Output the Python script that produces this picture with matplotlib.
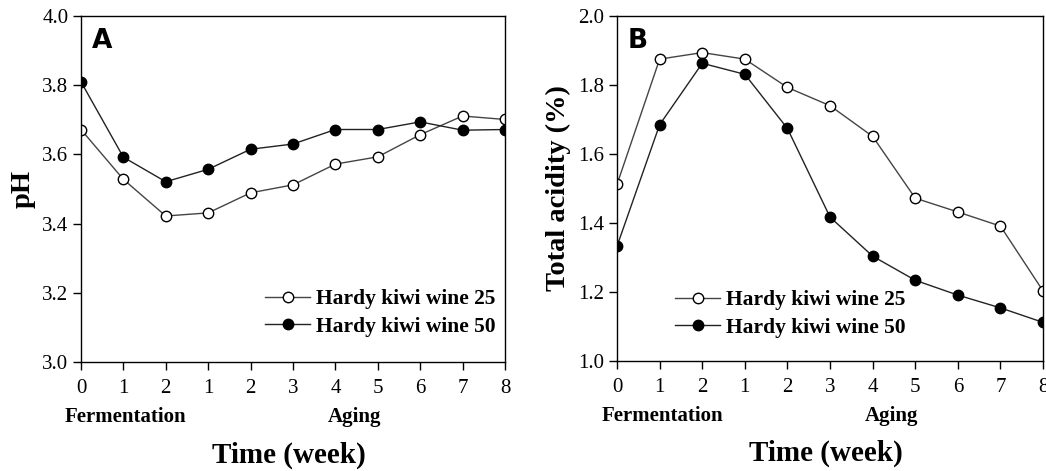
import matplotlib
matplotlib.use("Agg")
import matplotlib.pyplot as plt
import matplotlib.transforms as mtrans

plt.rcParams['font.family'] = ['Liberation Serif', 'DejaVu Serif']

# datos
x_labels = ["0", "1", "2", "1", "2", "3", "4", "5", "6", "7", "8"]
ph_25 = [3.672, 3.528, 3.422, 3.431, 3.489, 3.512, 3.572, 3.593, 3.657, 3.711, 3.701]
ph_50 = [3.810, 3.592, 3.521, 3.557, 3.615, 3.630, 3.672, 3.672, 3.694, 3.670, 3.672]
acid_25 = [1.512, 1.875, 1.894, 1.875, 1.793, 1.740, 1.651, 1.472, 1.432, 1.391, 1.203]
acid_50 = [1.333, 1.685, 1.863, 1.831, 1.674, 1.417, 1.304, 1.234, 1.191, 1.154, 1.112]
series_names = ["Hardy kiwi wine 25", "Hardy kiwi wine 50"]

fig = plt.figure(figsize=(10.46, 4.71), dpi=100)
axA = fig.add_axes([0.0774, 0.2314, 0.4054, 0.7346])
axB = fig.add_axes([0.5899, 0.2335, 0.4073, 0.7325])

x = list(range(len(x_labels)))


def panel(ax, y25, y50, ylim, yticks, ylabel, letter, leg_anchor):
    ax.plot(x, y25, color="#444444", lw=1.0, marker="o", ms=7.5,
            mfc="white", mec="black", mew=1.0, label=series_names[0])
    ax.plot(x, y50, color="#222222", lw=1.0, marker="o", ms=7.5,
            mfc="black", mec="black", mew=1.0, label=series_names[1])
    ax.set_xlim(0, 10)
    ax.set_ylim(*ylim)
    ax.set_xticks(x)
    ax.set_xticklabels(x_labels)
    ax.set_yticks(yticks)
    ax.set_yticklabels(["%.1f" % v for v in yticks])
    ax.tick_params(direction="out", length=6, width=1, labelsize=15, pad=6)
    ax.tick_params(axis="y", pad=3)
    for s in ax.spines.values():
        s.set_linewidth(1.0)
    ax.set_ylabel(ylabel, fontsize=20.5, fontweight="bold", labelpad=5)
    ax.text(0.025, 0.965, letter, transform=ax.transAxes, fontsize=19,
            fontweight="bold", family="DejaVu Sans", va="top", ha="left")
    ax.legend(loc="upper left", bbox_to_anchor=leg_anchor, frameon=False,
              prop={"size": 15.5, "weight": "bold"}, handlelength=2.1,
              handletextpad=0.25, labelspacing=0.35, borderpad=0,
              borderaxespad=0)
    trans = mtrans.blended_transform_factory(ax.transData, ax.transAxes)
    ax.text(1.06, -0.159, "Fermentation", transform=trans, ha="center",
            va="center", fontsize=15, fontweight="bold")
    ax.text(6.45, -0.159, "Aging", transform=trans, ha="center",
            va="center", fontsize=15, fontweight="bold")
    ax.text(0.49, -0.269, "Time (week)", transform=ax.transAxes, ha="center",
            va="center", fontsize=21, fontweight="bold")


panel(axA, ph_25, ph_50, (3.0, 4.0), [3.0, 3.2, 3.4, 3.6, 3.8, 4.0], "pH", "A",
      (0.434, 0.211))
panel(axB, acid_25, acid_50, (1.0, 2.0), [1.0, 1.2, 1.4, 1.6, 1.8, 2.0],
      "Total acidity (%)", "B", (0.136, 0.205))

fig.savefig("out.png", dpi=100)
